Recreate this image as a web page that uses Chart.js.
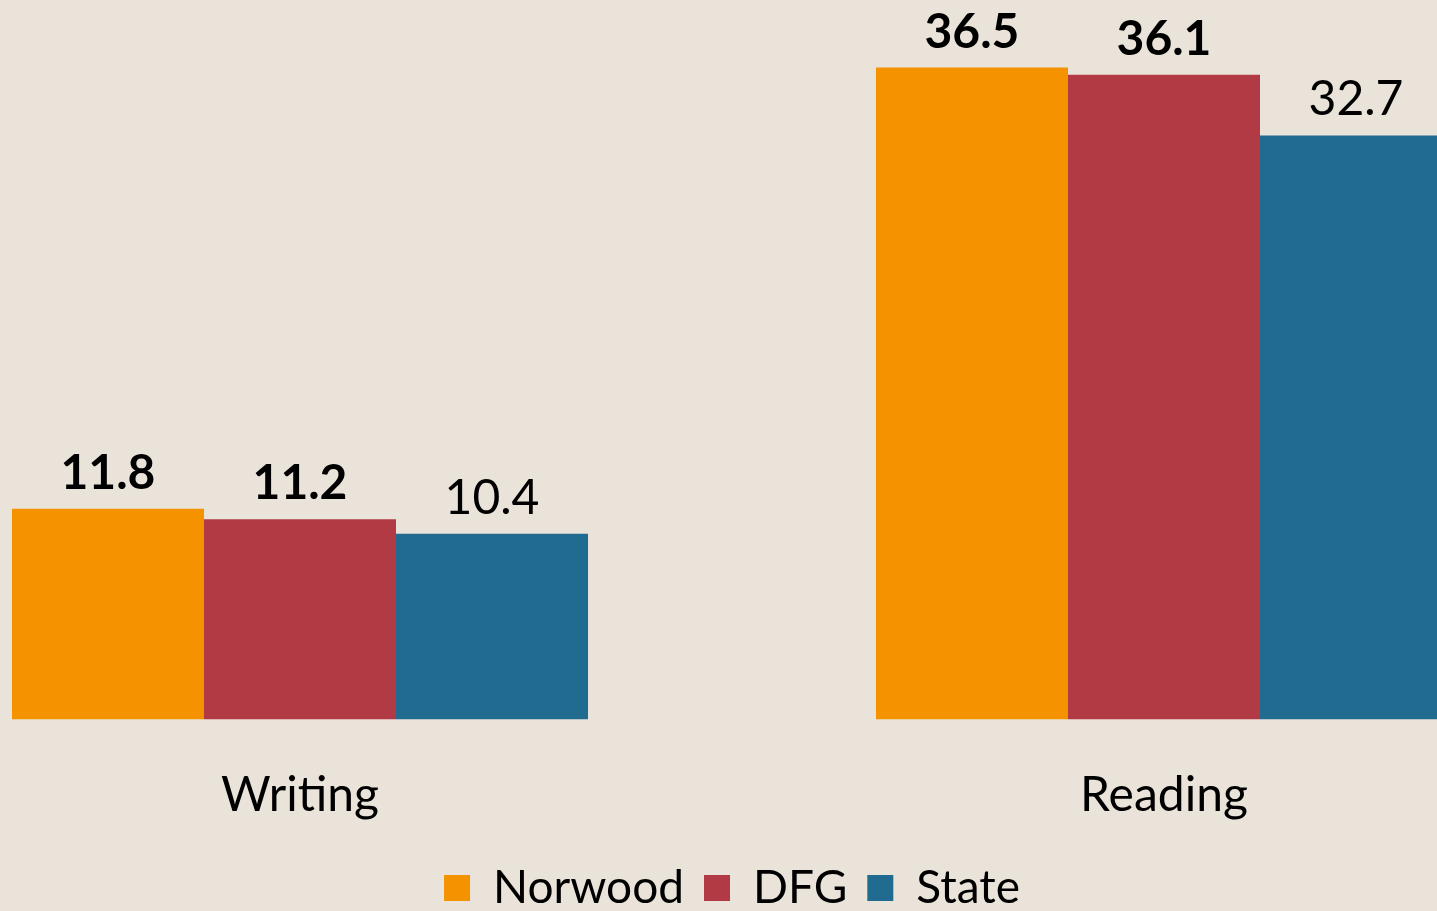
<!doctype html>
<html>
  <head>
    <title>Writing and Reading</title>
    <style>
        * { margin: 0; padding: 0; box-sizing: border-box; }
        html, body { width: 1437px; height: 911px; overflow: hidden; background: #eae3da; }
        #wrap { position: absolute; left: -132px; top: 0; width: 1728px; height: 921px; }
    </style>
  </head>
  <body>
    <script src="https://cdn.jsdelivr.net/npm/chart.js@4.4.1/dist/chart.umd.min.js" charset="utf-8"></script>
    <div id="wrap"><canvas id="myCanvas"></canvas></div>

    <script>

    const categories = ["Writing", "Reading"];
    const norwood = [11.8, 36.5];
    const dfg = [11.2, 36.1];
    const state = [10.4, 32.7];

    // value labels over each bar, bold for the first two series
    const barValues = {
        id: 'barValues',
        afterDatasetsDraw(chart) {
            const ctx = chart.ctx;
            ctx.save();
            ctx.fillStyle = '#000';
            ctx.textAlign = 'center';
            ctx.textBaseline = 'alphabetic';
            chart.data.datasets.forEach((ds, i) => {
                const meta = chart.getDatasetMeta(i);
                ctx.font = (i < 2 ? 'bold ' : '') + '48px Lato';
                meta.data.forEach((bar, j) => {
                    ctx.fillText(ds.data[j].toFixed(1), bar.x, bar.y - 20);
                });
            });
            ctx.restore();
        }
    };

    var ctx = document.getElementById("myCanvas").getContext('2d');
    var myChart = new Chart(ctx, {
        type: 'bar',
        data: {
            labels: categories,
            datasets: [
                { label: "Norwood", backgroundColor: '#f49200', data: norwood },
                { label: "DFG", backgroundColor: '#b23a45', data: dfg },
                { label: "State", backgroundColor: '#216b91', data: state }
            ]
        },
        options: {
            responsive: true,
            maintainAspectRatio: false,
            animation: false,
            categoryPercentage: 0.6667,
            barPercentage: 1.0,
            layout: { padding: { top: 5, left: 0, right: 0, bottom: 0 } },
            scales: {
                x: {
                    grid: { display: false, drawTicks: false },
                    border: { display: false },
                    ticks: { color: '#000', font: { family: 'Lato', size: 48 }, padding: 47 },
                    afterFit: function(axis) { axis.height = 125.6; }
                },
                y: {
                    display: false,
                    min: 0,
                    max: 40
                }
            },
            plugins: {
                legend: {
                    position: 'bottom',
                    labels: {
                        color: '#000',
                        font: { family: 'Lato', size: 46 },
                        boxWidth: 26,
                        boxHeight: 26,
                        padding: 20
                    }
                },
                tooltip: { enabled: false }
            }
        },
        plugins: [barValues]
    });

    </script>
  </body>
</html>
